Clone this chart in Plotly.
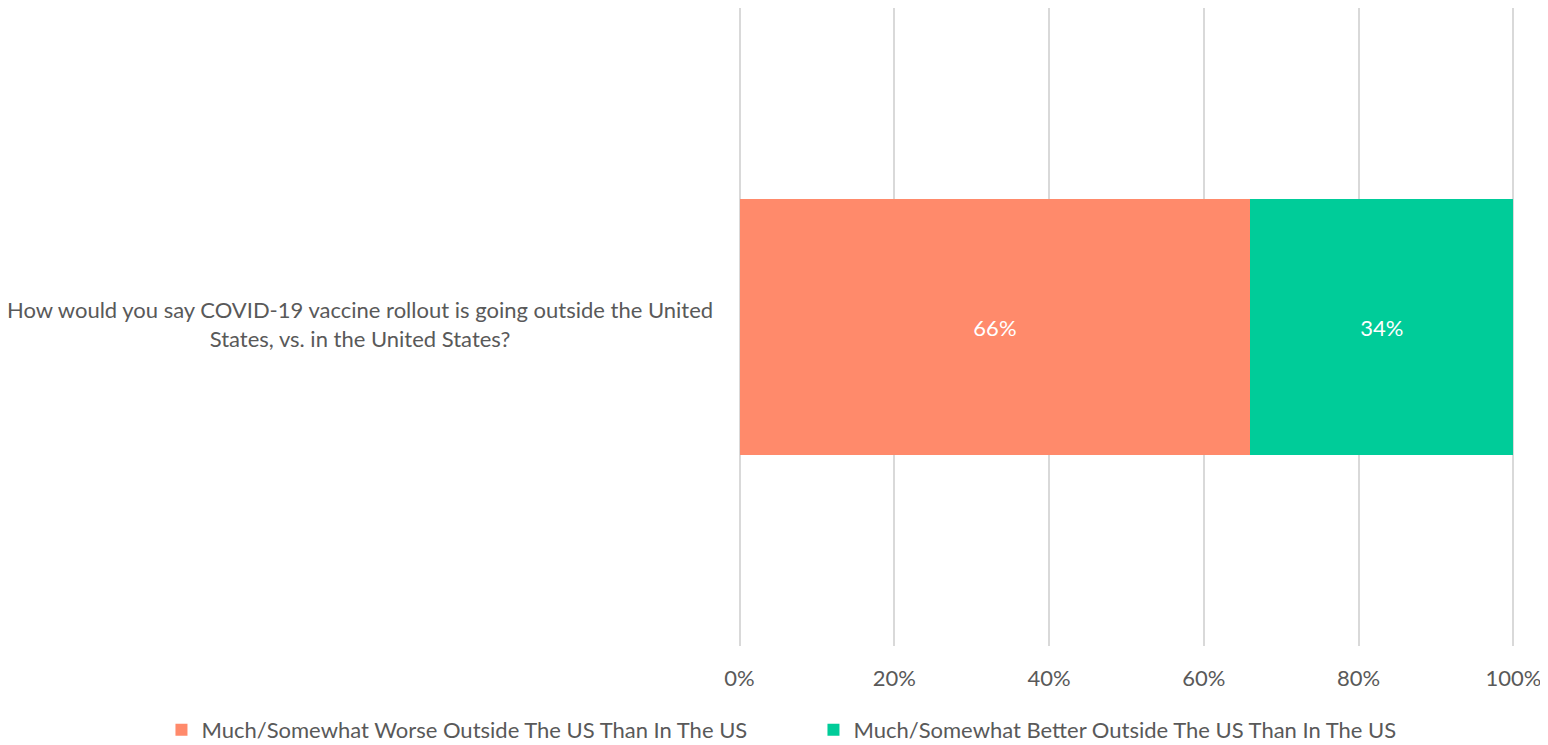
import plotly.graph_objects as go

categories = ["How would you say COVID-19 vaccine rollout is going outside the United<br>States, vs. in the United States?"]
series_names = ["Much/Somewhat Worse Outside The US Than In The US",
                "Much/Somewhat Better Outside The US Than In The US"]
worse = [0.66]
better = [0.34]
colors = ["#FF8A6B", "#00CC99"]
tick_vals = [0, 0.2, 0.4, 0.6, 0.8, 1.0]
tick_text = ["0%", "20%", "40%", "60%", "80%", "100%"]

FONT = "Lato"
GRAY = "#595959"
FS = 22

fig = go.Figure()
for name, vals, col in zip(series_names, [worse, better], colors):
    fig.add_trace(go.Bar(
        y=categories, x=vals, name=name, orientation="h",
        marker=dict(color=col, line=dict(width=0)),
        text=[f"{v*100:.0f}%" for v in vals], textposition="inside",
        insidetextanchor="middle",
        textfont=dict(color="white", size=FS, family=FONT),
        width=0.4,
    ))

fig.add_annotation(
    text=categories[0], xref="paper", yref="y", x=-0.03, y=categories[0],
    xanchor="right", yanchor="middle", align="center", showarrow=False,
    yshift=3, font=dict(size=FS, color=GRAY, family=FONT),
)

# page body has an 8px margin, so the figure is sized 8px smaller
fig.update_layout(
    barmode="stack",
    width=1540, height=737,
    margin=dict(l=730, r=33, t=0, b=99, autoexpand=False),
    paper_bgcolor="white", plot_bgcolor="white",
    font=dict(family=FONT, color=GRAY, size=FS),
    showlegend=True,
    legend=dict(orientation="h", x=-0.742, xanchor="left", xref="paper",
                y=-0.1317, yanchor="middle", yref="paper",
                font=dict(size=FS, color=GRAY), traceorder="normal",
                itemwidth=30, entrywidth=607, entrywidthmode="pixels"),
    xaxis=dict(range=[-0.002, 1.002], tickvals=tick_vals, ticktext=tick_text,
               showgrid=True, gridcolor="#D9D9D9", gridwidth=2,
               zeroline=False, showline=False, ticks="", automargin=False,
               tickfont=dict(size=FS, color=GRAY), ticklabelstandoff=17),
    yaxis=dict(range=[-0.5, 0.5], showgrid=False, zeroline=False,
               showline=False, ticks="", showticklabels=False, automargin=False),
)

fig.write_html("out.html")
